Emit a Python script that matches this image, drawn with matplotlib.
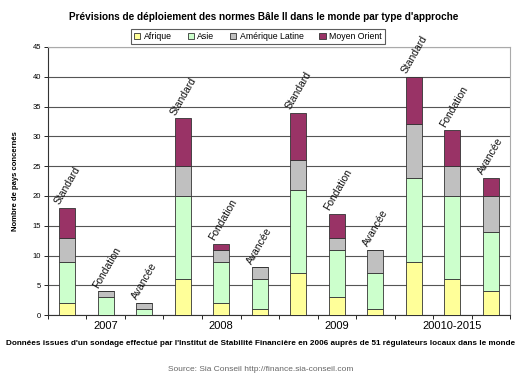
import numpy as np
from matplotlib import pyplot as plt

plt.rcParams["font.family"] = ["Liberation Sans", "DejaVu Sans"]

# Data
years = ["2007", "2008", "2009", "20010-2015"]
approaches = ["Standard", "Fondation", "Avancée"] * 4
afrique = [2, 0, 0, 6, 2, 1, 7, 3, 1, 9, 6, 4]
asie = [7, 3, 1, 14, 7, 5, 14, 8, 6, 14, 14, 10]
amerique_latine = [4, 1, 1, 5, 2, 2, 5, 2, 4, 9, 5, 6]
moyen_orient = [5, 0, 0, 8, 1, 0, 8, 4, 0, 8, 6, 3]

series = [
    ("Afrique", afrique, "#FFFF99"),
    ("Asie", asie, "#CCFFCC"),
    ("Amérique Latine", amerique_latine, "#C0C0C0"),
    ("Moyen Orient", moyen_orient, "#993366"),
]


def main():
    fig = plt.figure(figsize=(5.32, 3.82), dpi=100)
    ax = fig.add_axes([0.090, 0.175, 0.869, 0.702])

    x = np.arange(len(approaches))
    bottom = np.zeros(len(approaches))
    for name, vals, color in series:
        vals = np.array(vals, dtype=float)
        ax.bar(x, vals, 0.42, bottom=bottom, color=color, edgecolor="#333333",
               linewidth=0.6, label=name, zorder=3)
        bottom += vals

    # rotated approach labels above each bar
    for xi, total, lab in zip(x, bottom, approaches):
        ax.text(xi - 0.15, total + 0.3, lab, rotation=60, ha="left", va="bottom",
                rotation_mode="anchor", fontsize=7.5, color="#111111")

    ax.set_xlim(-0.5, len(approaches) - 0.5)
    ax.set_ylim(0, 45)
    ax.set_yticks(range(0, 46, 5))
    ax.tick_params(axis="y", labelsize=5.5, length=3, width=0.6, pad=2)
    ax.yaxis.grid(True, color="#555555", linewidth=0.8, zorder=0)

    # category boundary ticks, year labels under middle bar of each group
    ax.set_xticks(np.arange(-0.5, len(approaches), 1.0))
    ax.set_xticklabels([])
    ax.tick_params(axis="x", length=3, width=0.6, direction="out")
    for i, year in enumerate(years):
        ax.text(3 * i + 1, -1.0, year, ha="center", va="top", fontsize=8,
                transform=ax.transData)

    for side in ["top", "right"]:
        ax.spines[side].set_color("#AAAAAA")
        ax.spines[side].set_linewidth(0.8)
    for side in ["left", "bottom"]:
        ax.spines[side].set_color("#333333")
        ax.spines[side].set_linewidth(0.8)

    ax.set_ylabel("Nombre de pays concernés", fontsize=5.5, fontweight="bold",
                  labelpad=10)

    fig.text(0.495, 0.955, "Prévisions de déploiement des normes Bâle II dans le monde par type d'approche",
             ha="center", va="center", fontsize=7.2, fontweight="bold")

    leg = fig.legend(loc="center", bbox_to_anchor=(0.485, 0.905), ncol=4,
                     fontsize=6.3, frameon=True, fancybox=False,
                     handlelength=0.7, handleheight=0.7, handletextpad=0.4,
                     columnspacing=1.8, borderpad=0.35)
    leg.get_frame().set_edgecolor("#333333")
    leg.get_frame().set_linewidth(0.8)

    fig.text(0.49, 0.102,
             "Données issues d'un sondage effectué par l'Institut de Stabilité Financière en 2006 auprès de 51 régulateurs locaux dans le monde",
             ha="center", va="center", fontsize=5.85, fontweight="bold")
    fig.text(0.49, 0.032, "Source: Sia Conseil http://finance.sia-conseil.com",
             ha="center", va="center", fontsize=6.0, color="#666666")

    fig.savefig("out.png", dpi=100)


if __name__ == "__main__":
    main()
